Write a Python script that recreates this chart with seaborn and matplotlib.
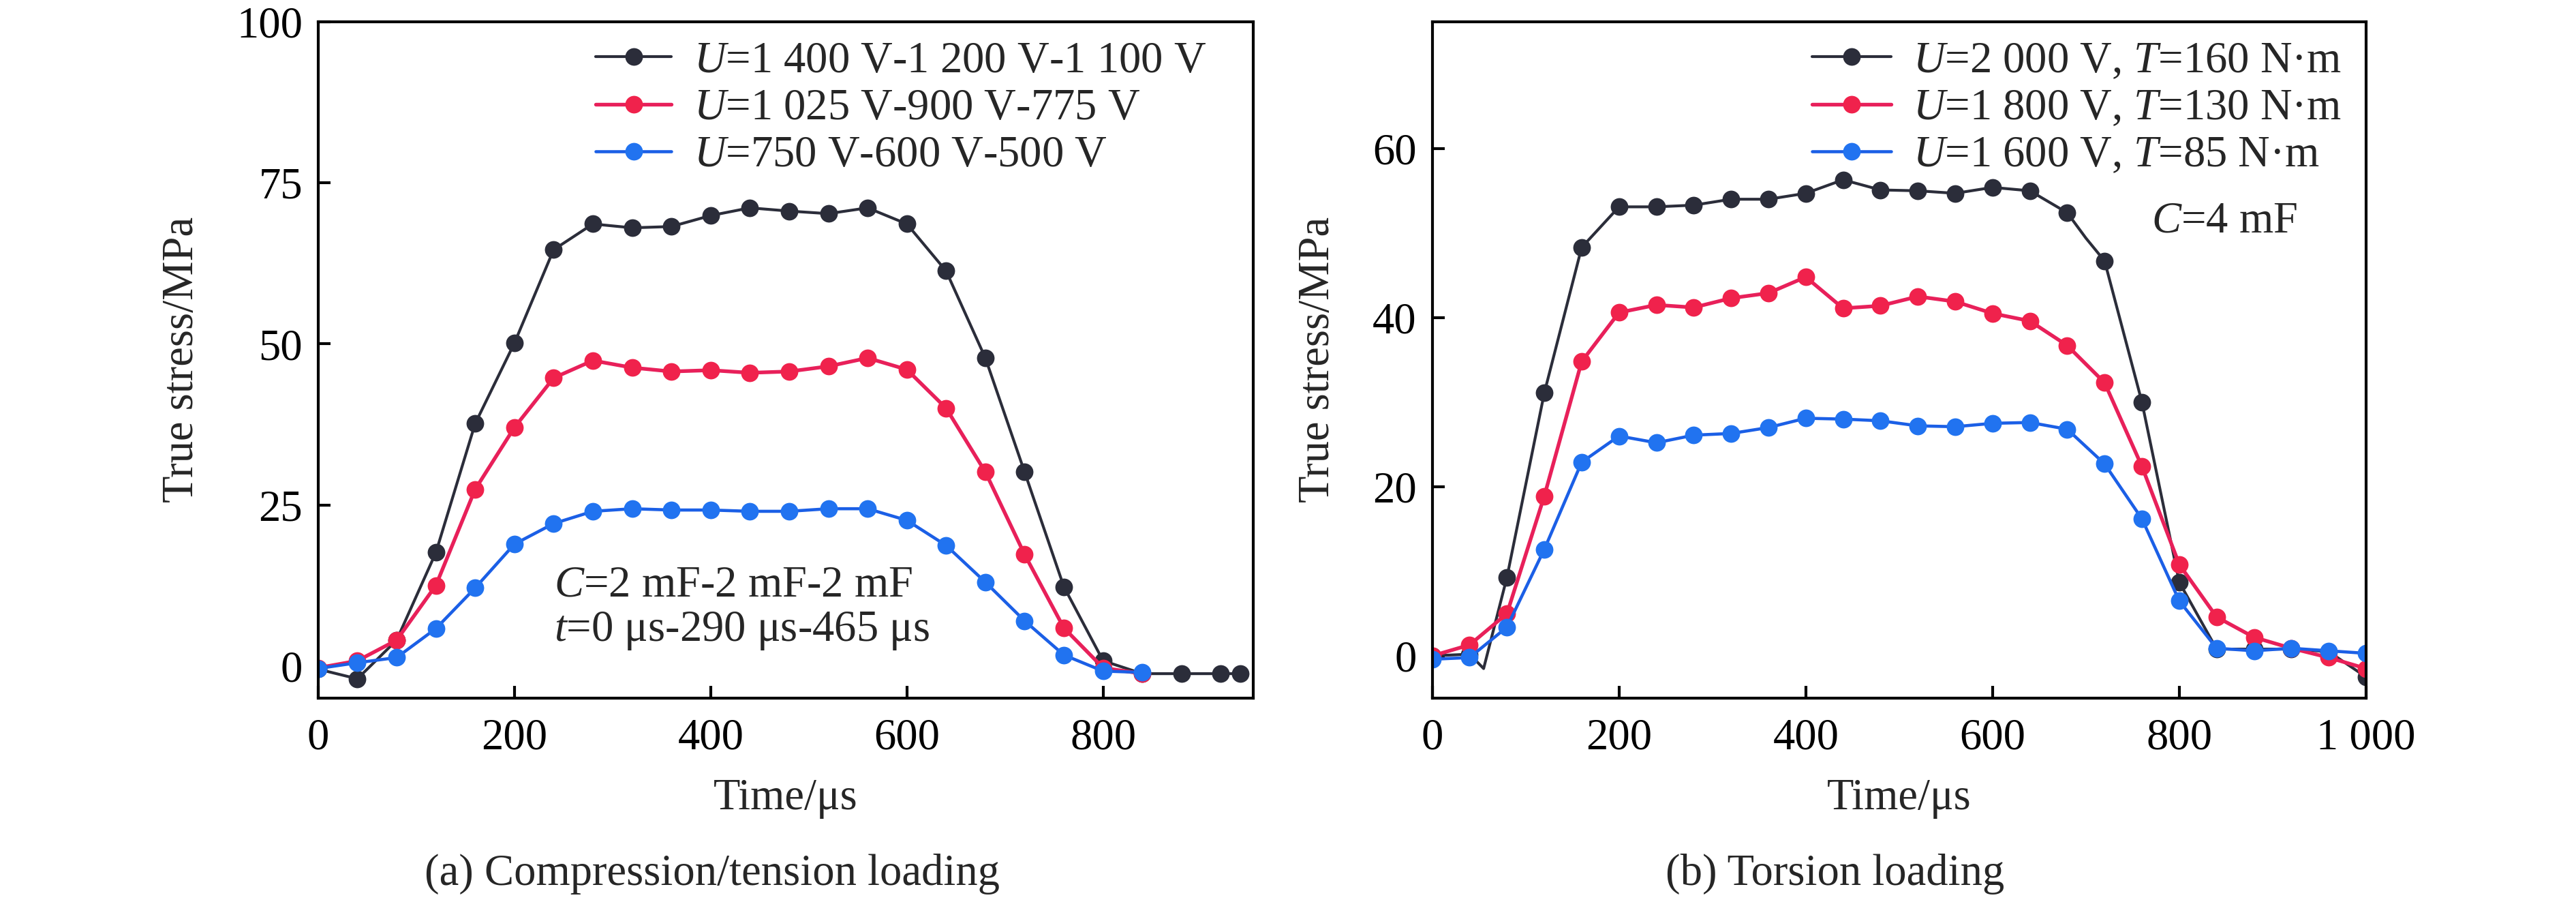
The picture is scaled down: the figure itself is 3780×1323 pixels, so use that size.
import matplotlib
matplotlib.use("Agg")
import matplotlib.pyplot as plt
import numpy as np
import pandas as pd
import seaborn as sns

# --------------------------------------------------------------------------
# data (time in us, true stress in MPa)
# --------------------------------------------------------------------------
# (a) compression / tension loading
time_a = [0, 40, 80, 120, 160, 200, 240, 280, 320, 360, 400, 440, 480, 520,
          560, 600, 640, 680, 720, 760, 800, 840, 880, 920, 940]
stress_a_high = [-0.5, -2.0, 4.0, 17.6, 37.6, 50.1, 64.6, 68.6, 68.0, 68.2, 69.9, 71.1,
                 70.6, 70.2, 71.1, 68.6, 61.3, 47.8, 30.1, 12.3, 0.8, -1.2, -1.2, -1.2, -1.2]
time_a_mid = time_a[:22]
stress_a_mid = [-0.3, 0.8, 4.0, 12.5, 27.4, 37.0, 44.7, 47.4, 46.3, 45.7, 45.9, 45.5,
                45.7, 46.5, 47.8, 46.0, 40.0, 30.1, 17.3, 5.9, -0.3, -1.2]
time_a_low = time_a[:22]
stress_a_low = [-0.4, 0.5, 1.3, 5.8, 12.1, 18.9, 22.1, 24.0, 24.4, 24.2, 24.2, 24.0,
                24.0, 24.4, 24.4, 22.6, 18.7, 13.0, 7.0, 1.7, -0.8, -1.0]

# (b) torsion loading
time_b = [0, 40, 80, 120, 160, 200, 240, 280, 320, 360, 400, 440, 480, 520,
          560, 600, 640, 680, 720, 760, 800, 840, 880, 920, 960, 1000]
time_b_high = [0, 40, 55, 80, 120, 160, 200, 240, 280, 320, 360, 400, 440, 480, 520,
               560, 600, 640, 680, 700, 720, 760, 800, 840, 880, 920, 960, 1000]
stress_b_high = [0.0, 0.2, -1.5, 9.3, 31.1, 48.3, 53.1, 53.1, 53.3, 54.0, 54.0, 54.7, 56.3,
                 55.1, 55.0, 54.7, 55.4, 55.0, 52.4, 49.4, 46.7, 30.0, 8.7, 0.8, 0.8, 0.8,
                 0.5, -2.5]
high_marker_idx = [0, 1, 3, 4, 5, 6, 7, 8, 9, 10, 11, 12, 13, 14, 15, 16, 17, 18,
                   20, 21, 22, 23, 24, 25, 26, 27]
stress_b_mid = [0.0, 1.3, 5.0, 18.9, 34.8, 40.6, 41.5, 41.2, 42.3, 42.9, 44.8, 41.1, 41.4,
                42.5, 41.9, 40.5, 39.6, 36.7, 32.3, 22.4, 10.8, 4.6, 2.2, 0.9, -0.2, -1.5]
stress_b_low = [-0.4, -0.2, 3.4, 12.6, 22.9, 26.0, 25.2, 26.1, 26.3, 27.0, 28.1, 28.0, 27.8,
                27.2, 27.1, 27.5, 27.6, 26.8, 22.7, 16.2, 6.5, 0.9, 0.6, 0.9, 0.6, 0.3]

labels_a = [r"$\mathit{U}$=1 400 V-1 200 V-1 100 V",
            r"$\mathit{U}$=1 025 V-900 V-775 V",
            r"$\mathit{U}$=750 V-600 V-500 V"]
labels_b = [r"$\mathit{U}$=2 000 V, $\mathit{T}$=160 N·m",
            r"$\mathit{U}$=1 800 V, $\mathit{T}$=130 N·m",
            r"$\mathit{U}$=1 600 V, $\mathit{T}$=85 N·m"]

xticks_a = [0, 200, 400, 600, 800]
xticks_b = [0, 200, 400, 600, 800, 1000]
xticklabels_b = ["0", "200", "400", "600", "800", "1 000"]
yticks_a = [0, 25, 50, 75, 100]
yticks_b = [0, 20, 40, 60]

line_colors = ["#2b2d3a", "#e8205a", "#1b5fe6"]
marker_colors = ["#2b2d3a", "#f0224c", "#2173f0"]
line_widths = [1.0, 1.3, 1.1]

# --------------------------------------------------------------------------
# style
# --------------------------------------------------------------------------
sns.set_theme(style="ticks")
plt.rcParams["font.family"] = ["Liberation Serif", "DejaVu Serif"]
plt.rcParams["mathtext.fontset"] = "custom"
plt.rcParams["mathtext.rm"] = "Liberation Serif"
plt.rcParams["mathtext.it"] = "Liberation Serif:italic"
FS = 15.5

fig = plt.figure(figsize=(12.6, 4.41), dpi=300)
ax_a = fig.add_axes([0.1235, 0.226, 0.363, 0.75])
ax_b = fig.add_axes([0.556, 0.226, 0.3625, 0.75])


def draw_series(ax, x, y, i, label, markevery=None):
    sns.lineplot(x=x, y=y, ax=ax, color=line_colors[i], linewidth=line_widths[i],
                 marker="o", markersize=6.2, markerfacecolor=marker_colors[i],
                 markeredgewidth=0, markevery=markevery, label=label)


draw_series(ax_a, time_a, stress_a_high, 0, labels_a[0])
draw_series(ax_a, time_a_mid, stress_a_mid, 1, labels_a[1])
draw_series(ax_a, time_a_low, stress_a_low, 2, labels_a[2])

draw_series(ax_b, time_b_high, stress_b_high, 0, labels_b[0], markevery=high_marker_idx)
draw_series(ax_b, time_b, stress_b_mid, 1, labels_b[1])
draw_series(ax_b, time_b, stress_b_low, 2, labels_b[2])

ax_a.set_xlim(0, 953)
ax_a.set_ylim(-5, 100)
ax_a.set_xticks(xticks_a)
ax_a.set_yticks(yticks_a)

ax_b.set_xlim(0, 1000)
ax_b.set_ylim(-5, 75)
ax_b.set_xticks(xticks_b)
ax_b.set_xticklabels(xticklabels_b)
ax_b.set_yticks(yticks_b)

for ax in (ax_a, ax_b):
    for side in ("top", "right", "left", "bottom"):
        ax.spines[side].set_linewidth(1.0)
        ax.spines[side].set_color("black")
    ax.tick_params(direction="in", length=4.3, width=1.0, labelsize=FS, colors="black")
    ax.tick_params(axis="x", pad=7)
    ax.tick_params(axis="y", pad=5.5)
    ax.set_xlabel("Time/μs", fontsize=FS, labelpad=7)
    ax.set_ylabel("True stress/MPa", fontsize=FS, labelpad=12)

legend_opts = dict(loc="upper left", frameon=False, fontsize=FS, borderpad=0,
                   borderaxespad=0, handletextpad=0.5, labelspacing=0.15)
ax_a.legend(bbox_to_anchor=(0.297, 0.971), handlelength=1.72, **legend_opts)
ax_b.legend(bbox_to_anchor=(0.4066, 0.971), handlelength=1.8, **legend_opts)

ax_a.text(0.252, 0.167, r"$\mathit{C}$=2 mF-2 mF-2 mF", transform=ax_a.transAxes,
          fontsize=FS, va="center", ha="left")
ax_a.text(0.252, 0.099, r"$\mathit{t}$=0 μs-290 μs-465 μs", transform=ax_a.transAxes,
          fontsize=FS, va="center", ha="left")
ax_b.text(0.770, 0.705, r"$\mathit{C}$=4 mF", transform=ax_b.transAxes,
          fontsize=FS, va="center", ha="left")

fig.text(0.2765, 0.031, "(a) Compression/tension loading", fontsize=FS, ha="center", va="center")
fig.text(0.7124, 0.031, "(b) Torsion loading", fontsize=FS, ha="center", va="center")

fig.savefig("out.png", dpi=300, facecolor="white")
